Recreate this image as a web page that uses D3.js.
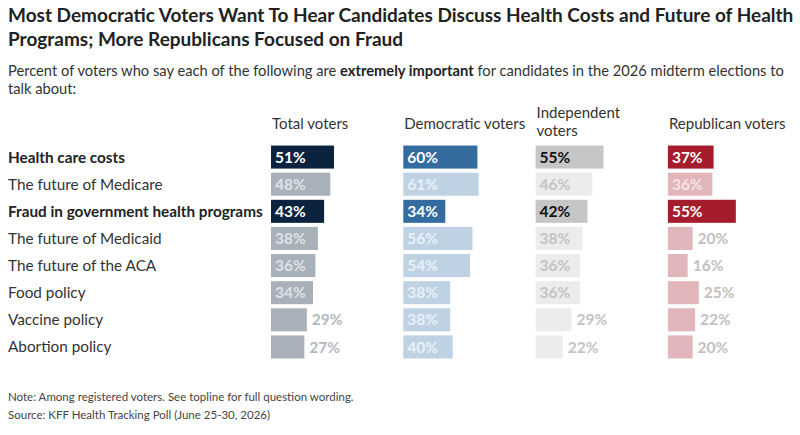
<!DOCTYPE html>
<html>
<head>
<meta charset="utf-8">
<script src="https://cdn.jsdelivr.net/npm/d3@7"></script>
<style>
  body { margin: 0; background: #fff; }
  svg { font-family: Lato, "Noto Sans", sans-serif; }
</style>
</head>
<body>
<div id="chart"></div>
<script>
// Chart data
const topics = ['Health care costs', 'The future of Medicare', 'Fraud in government health programs',
    'The future of Medicaid', 'The future of the ACA', 'Food policy', 'Vaccine policy', 'Abortion policy'];
const highlighted = ['Health care costs', 'Fraud in government health programs'];
const groups = ['Total voters', 'Democratic voters', 'Independent voters', 'Republican voters'];
const totalVoters = [51, 48, 43, 38, 36, 34, 29, 27];
const democraticVoters = [60, 61, 34, 56, 54, 38, 38, 40];
const independentVoters = [55, 46, 42, 38, 36, 36, 29, 22];
const republicanVoters = [37, 36, 55, 20, 16, 25, 22, 20];

const seriesValues = [totalVoters, democraticVoters, independentVoters, republicanVoters];

// colours per group: highlighted bar, other bar, labels
const palette = [
    {hi: '#0c2340', lo: '#a8b0b9', hiText: '#ffffff', loText: '#dfe3e8', out: '#b3b8be'},
    {hi: '#346ca0', lo: '#bed2e4', hiText: '#ffffff', loText: '#eaf1f7', out: '#b8c8d8'},
    {hi: '#c6c6c6', lo: '#ececec', hiText: '#111111', loText: '#c3c3c3', out: '#c3c3c3'},
    {hi: '#a51d2d', lo: '#e2b5ba', hiText: '#ffffff', loText: '#f6e4e6', out: '#c4bebe'}
];

const W = 800, H = 435;
const svg = d3.select('#chart').append('svg')
    .attr('width', W).attr('height', H);

// Title
const title = svg.append('text')
    .attr('x', 8).attr('y', 22)
    .style('font-size', '19px').style('font-weight', 700).attr('fill', '#222');
title.append('tspan').attr('x', 8).attr('y', 22)
    .text('Most Democratic Voters Want To Hear Candidates Discuss Health Costs and Future of Health');
title.append('tspan').attr('x', 8).attr('y', 46)
    .text('Programs; More Republicans Focused on Fraud');

// Subtitle
const sub = svg.append('text')
    .style('font-size', '14.7px').attr('fill', '#333');
const line1 = sub.append('tspan').attr('x', 8).attr('y', 76);
line1.append('tspan').text('Percent of voters who say each of the following are ');
line1.append('tspan').style('font-weight', 700).attr('fill', '#222').text('extremely important');
line1.append('tspan').text(' for candidates in the 2026 midterm elections to');
sub.append('tspan').attr('x', 8).attr('y', 94).text('talk about:');

// Scales
const x = d3.scaleBand().domain(groups).range([271, 271 + 4 * 132.3]);
const len = d3.scaleLinear().domain([0, 100]).range([0, 123.5]);
const y = d3.scaleBand().domain(topics).range([143.5, 360.5]).paddingInner(0.15).paddingOuter(0.075);

// Column headers
groups.forEach(g => {
    const t = svg.append('text')
        .attr('x', x(g) + 1)
        .style('font-size', '15px').attr('fill', '#333');
    if (g === 'Independent voters') {
        t.append('tspan').attr('x', x(g) + 1).attr('y', 118).text('Independent');
        t.append('tspan').attr('x', x(g) + 1).attr('y', 136).text('voters');
    } else {
        t.attr('y', 129).text(g);
    }
});

// Row labels
svg.append('g').selectAll('text')
    .data(topics)
    .join('text')
    .attr('x', 8)
    .attr('y', d => y(d) + y.bandwidth() / 2)
    .attr('dy', '0.36em')
    .style('font-size', '15.3px')
    .style('font-weight', d => highlighted.includes(d) ? 700 : 400)
    .attr('fill', d => highlighted.includes(d) ? '#222' : '#333')
    .text(d => d);

// Bars and labels
groups.forEach((g, gi) => {
    const col = palette[gi];
    const rows = topics.map((t, i) => ({topic: t, value: seriesValues[gi][i], hi: highlighted.includes(t)}));
    const cg = svg.append('g');

    cg.selectAll('rect')
        .data(rows)
        .join('rect')
        .attr('x', x(g))
        .attr('y', d => y(d.topic))
        .attr('width', d => len(d.value))
        .attr('height', y.bandwidth())
        .attr('fill', d => d.hi ? col.hi : col.lo);

    cg.selectAll('text')
        .data(rows)
        .join('text')
        .attr('x', d => d.value >= 30 ? x(g) + 4 : x(g) + len(d.value) + 5)
        .attr('y', d => y(d.topic) + y.bandwidth() / 2)
        .attr('dy', '0.36em')
        .style('font-size', '15.5px')
        .style('font-weight', 700)
        .attr('fill', d => d.value >= 30 ? (d.hi ? col.hiText : col.loText) : col.out)
        .text(d => d.value + '%');
});

// Footer
svg.append('text').attr('x', 8).attr('y', 401)
    .style('font-size', '11.5px').attr('fill', '#444')
    .text('Note: Among registered voters. See topline for full question wording.');
svg.append('text').attr('x', 8).attr('y', 419)
    .style('font-size', '11.5px').attr('fill', '#444')
    .text('Source: KFF Health Tracking Poll (June 25-30, 2026)');
</script>
</body>
</html>
